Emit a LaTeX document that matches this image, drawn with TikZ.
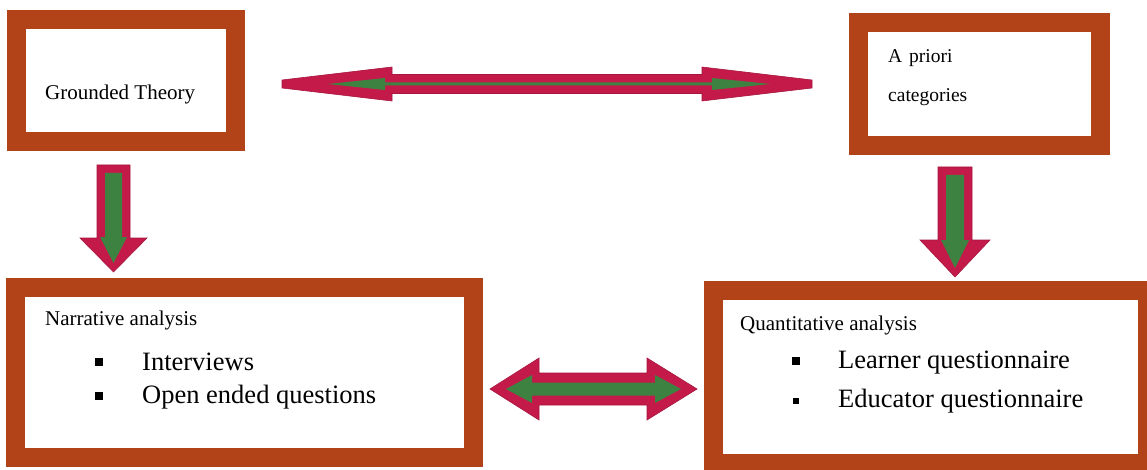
\documentclass[tikz,border=0pt]{standalone}
\usepackage{fontspec}
\setmainfont{Liberation Serif}
\definecolor{framebrown}{RGB}{178,66,24}
\definecolor{arrowred}{RGB}{196,26,74}
\definecolor{arrowgreen}{RGB}{62,130,66}
\tikzset{
  framebox/.style={draw=framebrown, line width=19pt, fill=white, inner sep=0pt},
  headtext/.style={anchor=base west, inner sep=0pt, font=\fontsize{21}{25}\selectfont},
  smalltext/.style={anchor=base west, inner sep=0pt, font=\fontsize{19.5}{23}\selectfont},
  itemtext/.style={anchor=base west, inner sep=0pt, font=\fontsize{26.5}{31}\selectfont},
  blockred/.style={fill=arrowred, draw=arrowred!85!black, line width=0.6pt},
  blockgreen/.style={fill=arrowgreen},
  bulletsq/.style={fill=black, inner sep=0pt, minimum size=7.5pt}
}
\begin{document}
\begin{tikzpicture}[x=1pt,y=-1pt]
\useasboundingbox (0,0) rectangle (1147,470);
\clip (0,0) rectangle (1147,470);
\fill[white] (0,0) rectangle (1147,470);

% frames
\node[framebox, minimum width=219pt, minimum height=121.5pt] (gt) at (125.5,80.75) {};
\node[framebox, minimum width=242pt, minimum height=123pt] (apr) at (979,84.5) {};
\node[framebox, minimum width=458.5pt, minimum height=170pt] (nar) at (244.25,372.5) {};
\node[framebox, minimum width=434pt, minimum height=173pt] (qua) at (930,376.5) {};

% texts
\node[headtext] (gtt) at (45,100) {Grounded Theory};
\node[smalltext] (apr1) at (888,63) {A\hspace{0.35em}priori};
\node[smalltext] (apr2) at (888,102) {categories};

\node[headtext] (nart) at (45,325) {Narrative analysis};
\node[bulletsq] (nb1) at (99,362) {};
\node[itemtext] (ni1) at (142,370) {Interviews};
\node[bulletsq] (nb2) at (99,396) {};
\node[itemtext] (ni2) at (142,403) {Open ended questions};

\node[headtext] (quat) at (740,330) {Quantitative analysis};
\node[bulletsq] (qb1) at (796,361) {};
\node[itemtext] (qi1) at (838,368) {Learner questionnaire};
\node[bulletsq, minimum size=6pt] (qb2) at (796,401) {};
\node[itemtext] (qi2) at (838,407) {Educator questionnaire};

% double arrow between the top frames
\filldraw[blockred] (282,80) -- (392,67) -- (392,74.5) -- (702,74.5) -- (702,67)
  -- (812,80) -- (812,88) -- (702,101) -- (702,93.5) -- (392,93.5) -- (392,101)
  -- (282,88) -- cycle;
\fill[blockgreen] (328,84) -- (385,78) -- (385,82.5) -- (712,82.5) -- (712,78)
  -- (770,84) -- (712,90) -- (712,85.5) -- (385,85.5) -- (385,90) -- cycle;

% double arrow between the bottom frames
\filldraw[blockred] (490,389) -- (539,358) -- (539,373) -- (647,373) -- (647,358)
  -- (697,389) -- (647,420) -- (647,405) -- (539,405) -- (539,420) -- cycle;
\fill[blockgreen] (506,389) -- (532,375) -- (532,382.5) -- (655,382.5) -- (655,375)
  -- (681,389) -- (655,403) -- (655,395.5) -- (532,395.5) -- (532,403) -- cycle;

% down arrow, left
\filldraw[blockred] (97,165) -- (130,165) -- (130,238) -- (147,238) -- (113.5,272)
  -- (80,238) -- (97,238) -- cycle;
\fill[blockgreen] (105,173) -- (122,173) -- (122,237) -- (127,237) -- (113.5,263)
  -- (100,237) -- (105,237) -- cycle;

% down arrow, right
\filldraw[blockred] (938,167) -- (972,167) -- (972,240) -- (990,240) -- (955,277)
  -- (920,240) -- (938,240) -- cycle;
\fill[blockgreen] (946,175) -- (964,175) -- (964,240) -- (969,240) -- (955,268)
  -- (941,240) -- (946,240) -- cycle;
\end{tikzpicture}
\end{document}
